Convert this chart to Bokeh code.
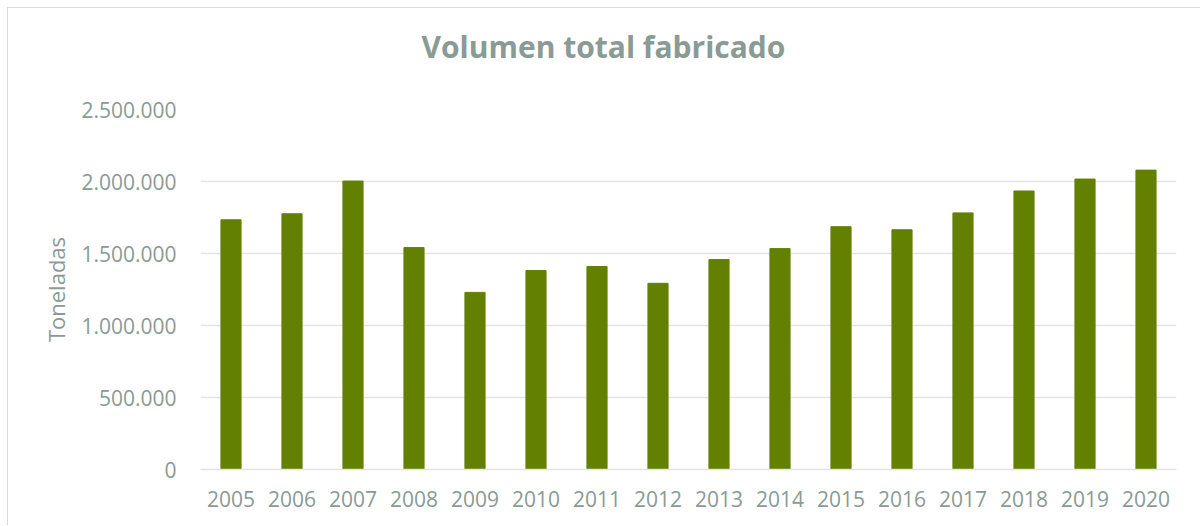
from bokeh.plotting import figure
from bokeh.models import Range1d, FixedTicker, Title
from bokeh.embed import file_html
from bokeh.resources import INLINE

years = [str(y) for y in range(2005, 2021)]
volumen = [1734000, 1776000, 2003000, 1541000, 1230000, 1382000, 1410000, 1293000,
           1458000, 1534000, 1686000, 1665000, 1782000, 1934000, 2017000, 2079000]
y_ticks = [0, 500000, 1000000, 1500000, 2000000, 2500000]
y_tick_labels = ["0", "500.000", "1.000.000", "1.500.000", "2.000.000", "2.500.000"]

TEXT = "#8a9a94"
FONT = "Open Sans"

p = figure(x_range=years, y_range=Range1d(0, 2500000), width=1193, height=518,
           output_backend="svg", toolbar_location=None, title=None,
           min_border_left=192, min_border_right=25, min_border_top=101, min_border_bottom=57)
p.styles = {"margin-left": "7px", "margin-top": "7px",
            "border-left": "1px solid #d9d9d9", "border-top": "1px solid #d9d9d9"}
p.outline_line_color = None

# spacer between title and plot area
p.add_layout(Title(text=" ", text_font_size="23px"), "above")
p.add_layout(Title(text="Volumen total fabricado", align="left", offset=221,
                   text_font=FONT, text_font_style="bold", text_font_size="30px",
                   text_color=TEXT), "above")

p.vbar(x=years, top=volumen, width=0.33, color="#638000")

p.xgrid.grid_line_color = None
p.ygrid.grid_line_color = "#e3e3e3"
p.ygrid.grid_line_width = 1.5

p.yaxis.ticker = FixedTicker(ticks=y_ticks)
p.yaxis.major_label_overrides = dict(zip(y_ticks, y_tick_labels))
p.yaxis.axis_line_color = None
p.yaxis.major_tick_line_color = None
p.yaxis.minor_tick_line_color = None
p.yaxis.major_label_standoff = 18
p.yaxis.axis_label = "Toneladas"
p.yaxis.axis_label_standoff = 7
p.yaxis.axis_label_text_font = FONT
p.yaxis.axis_label_text_font_style = "normal"
p.yaxis.axis_label_text_font_size = "22px"
p.yaxis.axis_label_text_color = TEXT

p.xaxis.axis_line_color = "#e3e3e3"
p.xaxis.axis_line_width = 1.5
p.xaxis.major_tick_line_color = None
p.xaxis.minor_tick_line_color = None
p.xaxis.major_label_standoff = 15

for ax in (p.xaxis, p.yaxis):
    ax.major_label_text_font = FONT
    ax.major_label_text_font_size = "21px"
    ax.major_label_text_color = TEXT

open("out.html", "w").write(file_html(p, INLINE))
